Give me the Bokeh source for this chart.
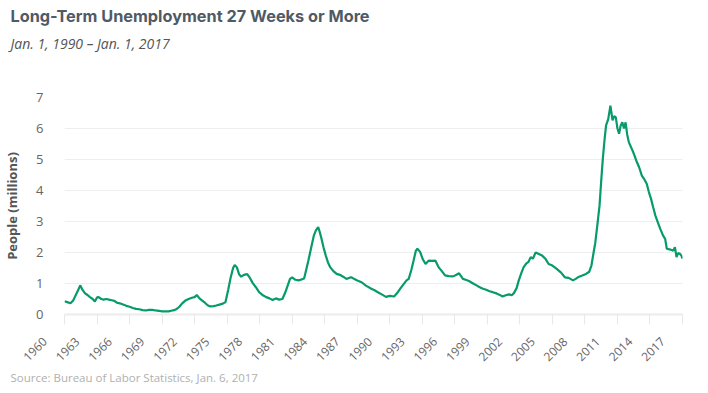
import math
from bokeh.plotting import figure
from bokeh.models import Range1d, FixedTicker, Title, ColumnDataSource
from bokeh.embed import file_html
from bokeh.resources import INLINE

years = [1960.00, 1960.25, 1960.55, 1960.80, 1961.00, 1961.25, 1961.45, 1961.65, 1961.90, 1962.15,
         1962.35, 1962.60, 1962.80, 1963.00, 1963.15, 1963.40, 1963.60, 1963.85, 1964.10, 1964.35,
         1964.60, 1964.85, 1965.10, 1965.40, 1965.70, 1966.00, 1966.30, 1966.60, 1966.90, 1967.20,
         1967.50, 1967.80, 1968.10, 1968.40, 1968.70, 1969.00, 1969.30, 1969.60, 1969.85, 1970.10,
         1970.35, 1970.60, 1970.85, 1971.15, 1971.45, 1971.75, 1972.00, 1972.20, 1972.45, 1972.70,
         1972.95, 1973.20, 1973.45, 1973.75, 1974.00, 1974.30, 1974.60, 1974.85, 1975.10, 1975.30,
         1975.55, 1975.70, 1975.90, 1976.10, 1976.30, 1976.55, 1976.85, 1977.10, 1977.35, 1977.65,
         1977.95, 1978.30, 1978.60, 1978.90, 1979.20, 1979.50, 1979.80, 1980.10, 1980.35, 1980.60,
         1980.80, 1981.00, 1981.30, 1981.60, 1981.85, 1982.10, 1982.30, 1982.50, 1982.75, 1983.00,
         1983.20, 1983.40, 1983.55, 1983.70, 1983.90, 1984.10, 1984.30, 1984.50, 1984.80, 1985.10,
         1985.40, 1985.70, 1986.00, 1986.25, 1986.45, 1986.70, 1987.00, 1987.40, 1987.80, 1988.30,
         1988.60, 1988.90, 1989.30, 1989.65, 1990.00, 1990.40, 1990.70, 1991.00, 1991.30, 1991.55,
         1991.75, 1992.00, 1992.20, 1992.40, 1992.55, 1992.80, 1993.05, 1993.30, 1993.60, 1993.90,
         1994.20, 1994.50, 1994.80, 1995.10, 1995.45, 1995.85, 1996.15, 1996.40, 1996.75, 1997.00,
         1997.30, 1997.65, 1998.00, 1998.30, 1998.60, 1998.90, 1999.20, 1999.50, 1999.85, 2000.10,
         2000.40, 2000.70, 2001.00, 2001.25, 2001.45, 2001.70, 2001.90, 2002.15, 2002.35, 2002.60,
         2002.80, 2003.00, 2003.20, 2003.45, 2003.75, 2004.05, 2004.35, 2004.65, 2005.00, 2005.40,
         2005.80, 2006.15, 2006.50, 2006.90, 2007.15, 2007.35, 2007.70, 2008.10, 2008.40, 2008.60,
         2008.80, 2008.95, 2009.15, 2009.35, 2009.50, 2009.65, 2009.80, 2009.95, 2010.15, 2010.35,
         2010.45, 2010.55, 2010.70, 2010.85, 2011.00, 2011.15, 2011.30, 2011.45, 2011.60, 2011.75,
         2011.90, 2012.05, 2012.25, 2012.45, 2012.60, 2012.80, 2013.00, 2013.25, 2013.50, 2013.70,
         2013.90, 2014.10, 2014.30, 2014.50, 2014.75, 2014.95, 2015.20, 2015.40, 2015.55, 2015.80,
         2016.00, 2016.15, 2016.30, 2016.45, 2016.60, 2016.75, 2016.90, 2017.00]

people_millions = [0.43, 0.40, 0.36, 0.45, 0.60, 0.78, 0.94, 0.80, 0.68, 0.62,
                   0.56, 0.50, 0.42, 0.55, 0.56, 0.50, 0.48, 0.50, 0.48, 0.46,
                   0.44, 0.38, 0.36, 0.32, 0.28, 0.25, 0.21, 0.18, 0.17, 0.14,
                   0.13, 0.15, 0.15, 0.13, 0.12, 0.10, 0.10, 0.10, 0.12, 0.14,
                   0.18, 0.25, 0.36, 0.45, 0.50, 0.54, 0.56, 0.63, 0.52, 0.45,
                   0.38, 0.30, 0.26, 0.27, 0.29, 0.32, 0.35, 0.40, 0.80, 1.15,
                   1.50, 1.60, 1.52, 1.30, 1.22, 1.28, 1.30, 1.18, 1.02, 0.88,
                   0.72, 0.62, 0.56, 0.52, 0.47, 0.52, 0.48, 0.50, 0.70, 0.95,
                   1.15, 1.20, 1.12, 1.10, 1.13, 1.16, 1.45, 1.75, 2.15, 2.55,
                   2.72, 2.82, 2.65, 2.45, 2.15, 1.90, 1.68, 1.53, 1.40, 1.31,
                   1.28, 1.22, 1.15, 1.18, 1.20, 1.15, 1.10, 1.04, 0.93, 0.83,
                   0.78, 0.72, 0.64, 0.57, 0.60, 0.58, 0.70, 0.85, 0.99, 1.10,
                   1.15, 1.45, 1.74, 2.05, 2.12, 2.02, 1.78, 1.63, 1.74, 1.73,
                   1.74, 1.53, 1.40, 1.26, 1.24, 1.23, 1.28, 1.33, 1.15, 1.12,
                   1.08, 1.01, 0.94, 0.88, 0.83, 0.80, 0.75, 0.72, 0.68, 0.64,
                   0.58, 0.62, 0.65, 0.62, 0.69, 0.85, 1.10, 1.35, 1.53, 1.65,
                   1.70, 1.85, 1.80, 2.00, 1.95, 1.90, 1.80, 1.63, 1.58, 1.47,
                   1.35, 1.20, 1.18, 1.10, 1.15, 1.20, 1.25, 1.31, 1.38, 1.58,
                   2.00, 2.30, 2.90, 3.52, 4.30, 5.02, 5.60, 6.10, 6.30, 6.74,
                   6.50, 6.26, 6.40, 6.36, 6.00, 5.83, 6.10, 6.20, 6.00, 6.20,
                   5.80, 5.56, 5.40, 5.24, 5.10, 4.91, 4.75, 4.48, 4.35, 4.22,
                   3.95, 3.73, 3.45, 3.19, 2.95, 2.76, 2.55, 2.44, 2.12, 2.10,
                   2.08, 2.06, 2.17, 1.85, 1.98, 1.96, 1.90, 1.80]

x_ticks = list(range(1960, 2018, 3))
y_ticks = [0, 1, 2, 3, 4, 5, 6, 7]

title_text = "Long-Term Unemployment 27 Weeks or More"
subtitle_text = "Jan. 1, 1990 \u2013 Jan. 1, 2017"
source_text = "Source: Bureau of Labor Statistics, Jan. 6, 2017"
y_label = "People (millions)"

W, H = 692, 393
L, R, T, B = 54, 10, 97, 79

p = figure(width=W, height=H, output_backend="svg", toolbar_location=None,
           x_range=Range1d(1960, 2017), y_range=Range1d(0, 7),
           min_border_left=L, min_border_right=R, min_border_top=T, min_border_bottom=B,
           background_fill_color="white", border_fill_color="white", title=None)
p.outline_line_color = None

src = ColumnDataSource(dict(x=years, y=people_millions))
p.line("x", "y", source=src, line_color="#079a6a", line_width=2.2)

# grid
p.xgrid.grid_line_color = None
p.ygrid.grid_line_color = "#eeeeee"
p.ygrid.grid_line_width = 1
p.ygrid.ticker = FixedTicker(ticks=y_ticks)

# x axis (trailing no-break spaces shift the rotated labels so they end near the tick)
pad = "\u00a0" * 9
xa = p.xaxis[0]
xa.ticker = FixedTicker(ticks=x_ticks)
xa.major_label_overrides = {t: str(t) + pad for t in x_ticks}
xa.axis_line_color = "#ececec"
xa.axis_line_width = 2
xa.major_tick_line_color = "#e8e8e8"
xa.major_tick_in = 0
xa.major_tick_out = 10
xa.minor_tick_line_color = None
xa.major_label_orientation = math.pi / 4
xa.major_label_text_font = "Open Sans"
xa.major_label_text_font_size = "12px"
xa.major_label_text_color = "#666666"
xa.major_label_standoff = -5

# y axis
ya = p.yaxis[0]
ya.ticker = FixedTicker(ticks=y_ticks)
ya.axis_line_color = None
ya.major_tick_line_color = None
ya.minor_tick_line_color = None
ya.major_label_text_font = "Open Sans"
ya.major_label_text_font_size = "13px"
ya.major_label_text_color = "#666666"
ya.major_label_standoff = 15
ya.axis_label = y_label
ya.axis_label_text_font = "Open Sans"
ya.axis_label_text_font_style = "bold"
ya.axis_label_text_font_size = "13px"
ya.axis_label_text_color = "#555555"
ya.axis_label_standoff = 12

# titles (closest to the frame first)
p.add_layout(Title(text="\u00a0", align="left", standoff=39,
                   text_font_size="1px", text_color="white"), "above")
p.add_layout(Title(text=subtitle_text, align="left", offset=-L, standoff=6,
                   text_font="Open Sans", text_font_style="italic",
                   text_font_size="14px", text_color="#555555"), "above")
p.add_layout(Title(text=title_text, align="left", offset=-L, standoff=5,
                   text_font="Inter", text_font_style="bold",
                   text_font_size="16.3px", text_color="#4f5a65"), "above")
p.add_layout(Title(text=source_text, align="left", offset=-L, standoff=-12,
                   text_font="Open Sans", text_font_style="normal",
                   text_font_size="11.5px", text_color="#b0b0b0"), "below")

open("out.html", "w").write(file_html(p, INLINE))
